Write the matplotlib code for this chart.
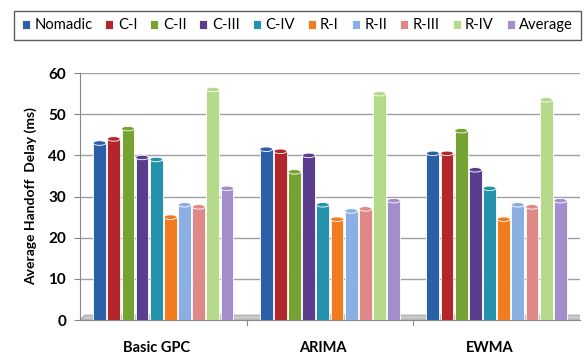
import matplotlib
matplotlib.use("Agg")
import matplotlib.pyplot as plt
import numpy as np
from matplotlib.patches import Ellipse, Polygon

categories = ["Basic GPC", "ARIMA", "EWMA"]
series_names = ["Nomadic", "C-I", "C-II", "C-III", "C-IV", "R-I", "R-II", "R-III", "R-IV", "Average"]
nomadic = [43, 41.5, 40.5]
c_i = [44, 41, 40.5]
c_ii = [46.5, 36, 46]
c_iii = [39.5, 40, 36.5]
c_iv = [39, 28, 32]
r_i = [25, 24.5, 24.5]
r_ii = [28, 26.5, 28]
r_iii = [27.5, 27, 27.5]
r_iv = [56, 55, 53.5]
average = [32, 29, 29]
series_values = [nomadic, c_i, c_ii, c_iii, c_iv, r_i, r_ii, r_iii, r_iv, average]
colors = ["#2b5fa8", "#b3262b", "#75a232", "#5b3d8e", "#2592ad",
          "#f17b1f", "#8bafe2", "#e08888", "#b4da8a", "#a38dca"]
yticks = [0, 10, 20, 30, 40, 50, 60]

plt.rcParams['font.family'] = ['Lato', 'DejaVu Sans']

fig = plt.figure(figsize=(5.84, 3.6), dpi=100)
ax = fig.add_axes([0.137, 0.111, 0.856, 0.686])

x = np.arange(len(categories))
pitch = 0.085
width = 0.077
n = len(series_names)
for i, (name, vals, col) in enumerate(zip(series_names, series_values, colors)):
    pos = x + (i - (n - 1) / 2) * pitch
    ax.bar(pos, vals, width=width, color=col, edgecolor="white", linewidth=0.6,
           label=name, zorder=3)
    for p, v in zip(pos, vals):
        ax.add_patch(Ellipse((p, v), width, 1.1, facecolor=col, edgecolor="white",
                             linewidth=0.6, zorder=4))

ax.set_xlim(-0.5, 2.5)
ax.set_ylim(0, 60)
ax.set_yticks(yticks)
ax.set_yticklabels([str(t) for t in yticks], fontsize=11, fontweight="bold")
ax.set_xticks(x - 0.04)
ax.set_xticklabels(categories, fontsize=10.5, fontweight="bold")
ax.tick_params(axis="x", length=0, pad=15)
ax.tick_params(axis="y", length=4, color="#888888", pad=6)
ax.grid(axis="y", color="#a0a0a0", linewidth=1.0, zorder=0)
for s in ["top", "right"]:
    ax.spines[s].set_visible(False)
ax.spines["left"].set_color("#888888")
ax.spines["bottom"].set_color("#888888")
# floor
floor = Polygon([[-0.5, 0], [2.5, 0], [2.53, 1.2], [-0.47, 1.2]], closed=True,
                facecolor="#c8c8c8", edgecolor="#999999", linewidth=0.6, zorder=2)
ax.add_patch(floor)
for b in [0.5, 1.5]:
    ax.plot([b, b], [0, -1.2], color="#888888", linewidth=0.8, clip_on=False)

ax.set_ylabel("Average Handoff  Delay (ms)", fontsize=10, fontweight="bold", labelpad=8)

fig.legend(loc="upper left", bbox_to_anchor=(0.012, 0.99), ncol=10, fontsize=10.6,
           handlelength=0.55, handleheight=0.55, handletextpad=0.3, columnspacing=0.88,
           frameon=True, fancybox=False, edgecolor="#333333", borderpad=0.5)

fig.savefig("out.png", dpi=100)
